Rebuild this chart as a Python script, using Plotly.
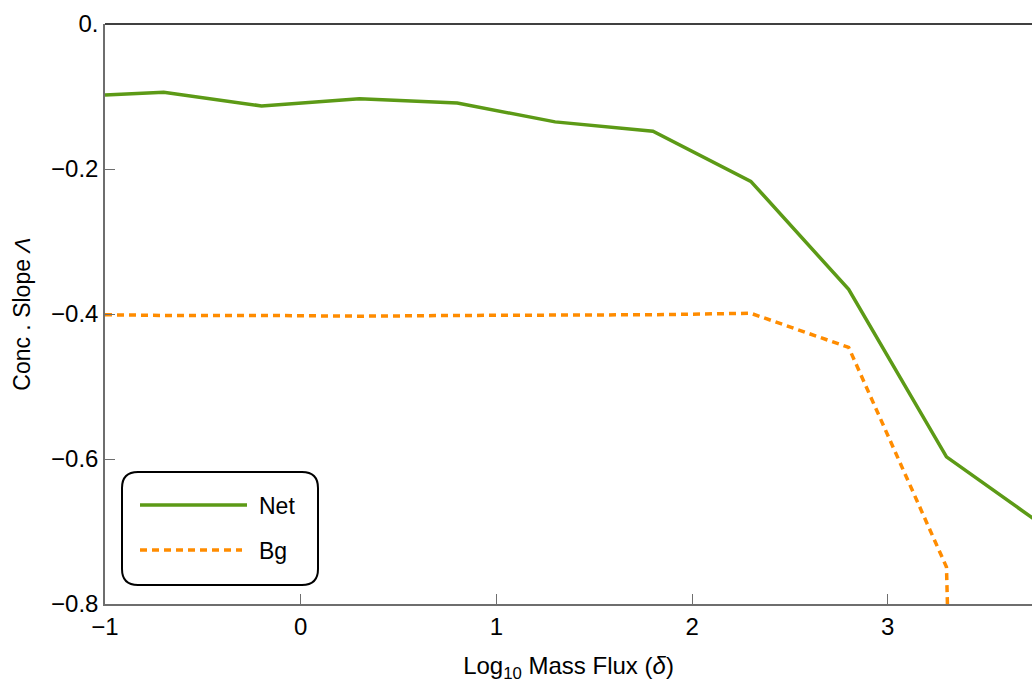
import plotly.graph_objects as go

# Data
x_vals = [-1.0, -0.7, -0.2, 0.3, 0.8, 1.3, 1.8, 2.3, 2.8, 3.3, 3.8]
net_vals = [-0.098, -0.094, -0.113, -0.103, -0.109, -0.135, -0.148, -0.217, -0.366, -0.597, -0.693]
bg_vals = [-0.401, -0.402, -0.402, -0.403, -0.402, -0.402, -0.401, -0.399, -0.446, -0.749, -6.0]
series_names = ["Net", "Bg"]
x_tickvals = [-1, 0, 1, 2, 3]
x_ticktext = ["\u22121", "0", "1", "2", "3"]
y_tickvals = [0, -0.2, -0.4, -0.6, -0.8]
y_ticktext = ["0.", "\u22120.2", "\u22120.4", "\u22120.6", "\u22120.8"]

GREEN = "rgb(92,154,22)"
ORANGE = "rgb(255,140,0)"
FONT = "Liberation Sans, Arial, sans-serif"

fig = go.Figure()
fig.add_trace(go.Scatter(x=x_vals, y=net_vals, mode="lines", name=series_names[0],
                         line=dict(color=GREEN, width=3.5), showlegend=False))
fig.add_trace(go.Scatter(x=x_vals, y=bg_vals, mode="lines", name=series_names[1],
                         line=dict(color=ORANGE, width=3.5, dash="7px,5px"), showlegend=False))

axis_gray = "rgb(110,110,110)"
fig.update_layout(
    width=1032, height=683,
    margin=dict(l=105, r=0, t=24, b=79),
    plot_bgcolor="white", paper_bgcolor="white",
    font=dict(family=FONT, size=24, color="black"),
    xaxis=dict(range=[-1, 3.737], tickvals=x_tickvals, ticktext=x_ticktext,
               ticks="inside", ticklen=10, tickcolor=axis_gray, tickwidth=1,
               showline=True, linecolor=axis_gray, linewidth=1.5,
               showgrid=False, zeroline=False, automargin=True,
               tickfont=dict(size=24),
               title=dict(text="Log<sub>10</sub> Mass Flux (<i>\u03b4</i>)", font=dict(size=24), standoff=20)),
    yaxis=dict(range=[-0.8, 0], tickvals=y_tickvals, ticktext=y_ticktext,
               ticks="inside", ticklen=10, tickcolor=axis_gray, tickwidth=1,
               showline=True, linecolor=axis_gray, linewidth=1.5,
               showgrid=False, zeroline=False, automargin=True,
               tickfont=dict(size=24),
               title=dict(text="Conc . Slope <i>\u039b</i>", font=dict(size=23), standoff=14)),
)

# top frame line
fig.add_shape(type="line", xref="paper", yref="paper", x0=0, x1=1, y0=1, y1=1,
              line=dict(color="black", width=1.5))

# Manual legend with rounded box (reference pixel -> paper conversion)
W, H = 927.0, 580.0
def px(xp):
    return (xp - 105) / W
def py(yp):
    return (604 - yp) / H

x0, x1, y0, y1, r = 122, 318, 472, 585, 16
path = (f"M {px(x0+r)},{py(y0)} L {px(x1-r)},{py(y0)} "
        f"Q {px(x1)},{py(y0)} {px(x1)},{py(y0+r)} L {px(x1)},{py(y1-r)} "
        f"Q {px(x1)},{py(y1)} {px(x1-r)},{py(y1)} L {px(x0+r)},{py(y1)} "
        f"Q {px(x0)},{py(y1)} {px(x0)},{py(y1-r)} L {px(x0)},{py(y0+r)} "
        f"Q {px(x0)},{py(y0)} {px(x0+r)},{py(y0)} Z")
fig.add_shape(type="path", xref="paper", yref="paper", path=path,
              line=dict(color="black", width=2), fillcolor="white")
fig.add_shape(type="line", xref="paper", yref="paper", x0=px(140), x1=px(247), y0=py(505), y1=py(505),
              line=dict(color=GREEN, width=3.5))
fig.add_shape(type="line", xref="paper", yref="paper", x0=px(140), x1=px(242), y0=py(550), y1=py(550),
              line=dict(color=ORANGE, width=3.5, dash="7px,5px"))
fig.add_annotation(xref="paper", yref="paper", x=px(257), y=py(506), text=series_names[0],
                   showarrow=False, xanchor="left", yanchor="middle", font=dict(size=23))
fig.add_annotation(xref="paper", yref="paper", x=px(257), y=py(551), text=series_names[1],
                   showarrow=False, xanchor="left", yanchor="middle", font=dict(size=23))

fig.write_html("out.html", config={"displayModeBar": False},
               post_script="document.body.style.margin='0px';document.body.style.overflow='hidden';")
